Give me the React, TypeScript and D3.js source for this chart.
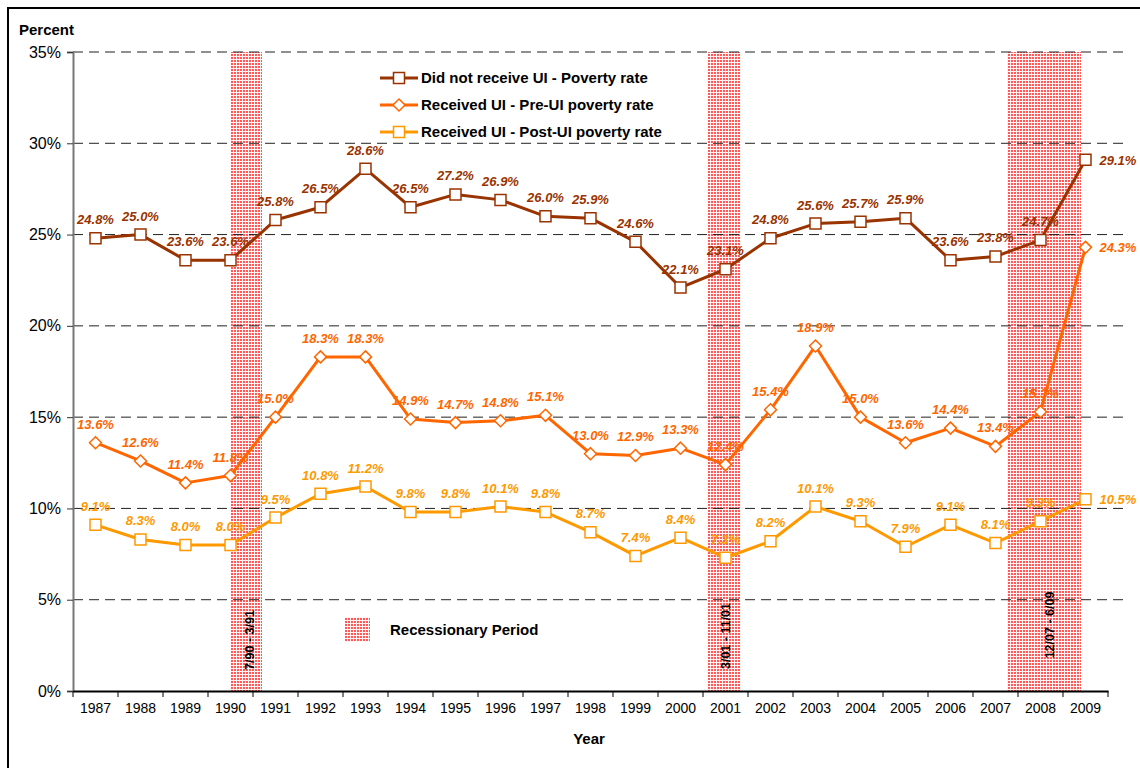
import React, { useEffect, useRef } from 'react';
import * as d3 from 'd3';

const years = [
  1987, 1988, 1989, 1990, 1991, 1992, 1993, 1994, 1995, 1996, 1997, 1998,
  1999, 2000, 2001, 2002, 2003, 2004, 2005, 2006, 2007, 2008, 2009,
];
const noUI = [
  24.8, 25.0, 23.6, 23.6, 25.8, 26.5, 28.6, 26.5, 27.2, 26.9, 26.0, 25.9,
  24.6, 22.1, 23.1, 24.8, 25.6, 25.7, 25.9, 23.6, 23.8, 24.7, 29.1,
];
const preUI = [
  13.6, 12.6, 11.4, 11.8, 15.0, 18.3, 18.3, 14.9, 14.7, 14.8, 15.1, 13.0,
  12.9, 13.3, 12.4, 15.4, 18.9, 15.0, 13.6, 14.4, 13.4, 15.3, 24.3,
];
const postUI = [
  9.1, 8.3, 8.0, 8.0, 9.5, 10.8, 11.2, 9.8, 9.8, 10.1, 9.8, 8.7,
  7.4, 8.4, 7.3, 8.2, 10.1, 9.3, 7.9, 9.1, 8.1, 9.3, 10.5,
];
const seriesNames = [
  'Did not receive UI - Poverty rate',
  'Received UI - Pre-UI poverty rate',
  'Received UI - Post-UI poverty rate',
];
const yTicks = [0, 5, 10, 15, 20, 25, 30, 35];
// recessions in fractional year units (year value = category centre)
const recessionStart = [1990.0, 2000.6, 2007.26];
const recessionEnd = [1990.7, 2001.33, 2008.9];
const recessionLabels = ['7/90 - 3/91', '3/01 - 11/01', '12/07 - 6/09'];

const FONT = '"Liberation Sans", Arial, sans-serif';

// square marker, or the same square turned 45 degrees
const squarePath = 'M-5.5,-5.5H5.5V5.5H-5.5Z';
const diamondPath = 'M0,-6L6,0L0,6L-6,0Z';

const App: React.FC = () => {
  const svgRef = useRef<SVGSVGElement>(null);

  useEffect(() => {
    if (!svgRef.current) return;
    const svg = d3.select(svgRef.current);
    svg.selectAll('*').remove();

    const left = 73;
    const right = 1108;
    const top = 52;
    const bottom = 691;

    const x = d3.scaleBand<number>().domain(years).range([left, right]).padding(0);
    const cx = (yr: number) => (x(yr) || 0) + x.bandwidth() / 2;
    const xYear = d3.scaleLinear()
      .domain([years[0], years[years.length - 1]])
      .range([cx(years[0]), cx(years[years.length - 1])]);
    const y = d3.scaleLinear().domain([0, 35]).range([bottom, top]);

    // pattern for recession bands
    const defs = svg.append('defs');
    const pat = defs.append('pattern')
      .attr('id', 'recess')
      .attr('width', 3)
      .attr('height', 3)
      .attr('patternUnits', 'userSpaceOnUse');
    pat.append('rect').attr('width', 3).attr('height', 3).attr('fill', '#fff2f2');
    pat.append('rect').attr('width', 2).attr('height', 2).attr('fill', '#ff5a5a');

    // outer frame
    svg.append('rect')
      .attr('x', 8).attr('y', 8)
      .attr('width', 1160).attr('height', 800)
      .attr('fill', '#fff')
      .attr('stroke', '#000')
      .attr('stroke-width', 2);

    // recession bands
    recessionStart.forEach((s, i) => {
      svg.append('rect')
        .attr('x', xYear(s))
        .attr('y', top)
        .attr('width', xYear(recessionEnd[i]) - xYear(s))
        .attr('height', bottom - top)
        .attr('fill', 'url(#recess)');
    });

    // gridlines
    svg.append('g')
      .selectAll('line')
      .data(yTicks.filter(t => t > 0))
      .enter().append('line')
      .attr('x1', left).attr('x2', right + 16)
      .attr('y1', d => y(d)).attr('y2', d => y(d))
      .attr('stroke', '#222')
      .attr('stroke-width', 1)
      .attr('stroke-dasharray', '10,6');

    // y axis
    const yAxis = svg.append('g')
      .attr('transform', `translate(${left},0)`)
      .call(d3.axisLeft(y).tickValues(yTicks).tickSize(6).tickPadding(6).tickFormat(d => `${d}%`));
    yAxis.select('.domain').attr('stroke', '#777').attr('stroke-width', 2);
    yAxis.selectAll('line').attr('stroke', '#333');
    yAxis.selectAll('text')
      .attr('fill', '#000')
      .style('font-family', FONT)
      .style('font-size', '16px');

    // x axis
    const xAxis = svg.append('g')
      .attr('transform', `translate(0,${bottom})`)
      .call(d3.axisBottom(x).tickSize(0).tickPadding(12));
    xAxis.select('.domain').attr('stroke', '#000').attr('stroke-width', 2);
    xAxis.selectAll('text')
      .attr('fill', '#000')
      .style('font-family', FONT)
      .style('font-size', '14px');
    svg.append('g')
      .selectAll('line')
      .data(years.concat([years[years.length - 1] + 1]))
      .enter().append('line')
      .attr('x1', (d, i) => left + i * x.bandwidth())
      .attr('x2', (d, i) => left + i * x.bandwidth())
      .attr('y1', bottom).attr('y2', bottom + 6)
      .attr('stroke', '#000');

    // recession labels
    recessionStart.forEach((s, i) => {
      const mx = (xYear(s) + xYear(recessionEnd[i])) / 2 + [3, 2, 6][i];
      const my = [640, 636, 625][i];
      svg.append('text')
        .attr('transform', `translate(${mx},${my}) rotate(-90)`)
        .attr('text-anchor', 'middle')
        .attr('dy', '0.35em')
        .style('font-family', FONT)
        .style('font-size', '12.5px')
        .style('font-weight', 'bold')
        .attr('fill', '#000')
        .text(recessionLabels[i]);
    });

    const series = [
      { values: noUI, color: '#993300', shape: squarePath },
      { values: preUI, color: '#ff6600', shape: diamondPath },
      { values: postUI, color: '#ff9900', shape: squarePath },
    ];

    const line = d3.line<number>()
      .x((d, i) => cx(years[i]))
      .y(d => y(d));

    series.forEach(s => {
      svg.append('path')
        .datum(s.values)
        .attr('d', line)
        .attr('fill', 'none')
        .attr('stroke', s.color)
        .attr('stroke-width', 3)
        .attr('stroke-linejoin', 'round');

      svg.append('g')
        .selectAll('path')
        .data(s.values)
        .enter().append('path')
        .attr('transform', (d, i) => `translate(${cx(years[i])},${y(d)})`)
        .attr('d', s.shape)
        .attr('fill', '#fff')
        .attr('stroke', s.color)
        .attr('stroke-width', 1.5);

      svg.append('g')
        .selectAll('text')
        .data(s.values)
        .enter().append('text')
        .attr('x', (d, i) => i === years.length - 1 ? cx(years[i]) + 14 : cx(years[i]))
        .attr('y', (d, i) => i === years.length - 1 ? y(d) + 5 : y(d) - 14)
        .attr('text-anchor', (d, i) => i === years.length - 1 ? 'start' : 'middle')
        .style('font-family', FONT)
        .style('font-size', '13px')
        .style('font-weight', 'bold')
        .style('font-style', 'italic')
        .attr('fill', s.color)
        .text(d => `${d.toFixed(1)}%`);
    });

    // legend
    const lg = svg.append('g').attr('transform', 'translate(380,78)');
    series.forEach((s, i) => {
      const row = lg.append('g').attr('transform', `translate(0,${i * 27})`);
      row.append('line')
        .attr('x1', 0).attr('x2', 38)
        .attr('stroke', s.color).attr('stroke-width', 3);
      row.append('path')
        .attr('transform', 'translate(19,0)')
        .attr('d', s.shape)
        .attr('fill', '#fff')
        .attr('stroke', s.color)
        .attr('stroke-width', 1.5);
      row.append('text')
        .attr('x', 41).attr('dy', '0.35em')
        .style('font-family', FONT)
        .style('font-size', '15px')
        .style('font-weight', 'bold')
        .attr('fill', '#000')
        .text(seriesNames[i]);
    });

    // recession legend
    svg.append('rect')
      .attr('x', 345).attr('y', 617)
      .attr('width', 25).attr('height', 25)
      .attr('fill', 'url(#recess)');
    svg.append('text')
      .attr('x', 390).attr('y', 630).attr('dy', '0.35em')
      .style('font-family', FONT)
      .style('font-size', '15px')
      .style('font-weight', 'bold')
      .attr('fill', '#000')
      .text('Recessionary Period');

    // axis titles
    svg.append('text')
      .attr('x', 19).attr('y', 35)
      .style('font-family', FONT)
      .style('font-size', '15px')
      .style('font-weight', 'bold')
      .attr('fill', '#000')
      .text('Percent');
    svg.append('text')
      .attr('x', 589).attr('y', 744)
      .attr('text-anchor', 'middle')
      .style('font-family', FONT)
      .style('font-size', '15px')
      .style('font-weight', 'bold')
      .attr('fill', '#000')
      .text('Year');
  }, []);

  return (
    <svg
      ref={svgRef}
      width={1140}
      height={768}
      style={{ position: 'absolute', left: 0, top: 0, background: '#fff' }}
    />
  );
};

export default App;
